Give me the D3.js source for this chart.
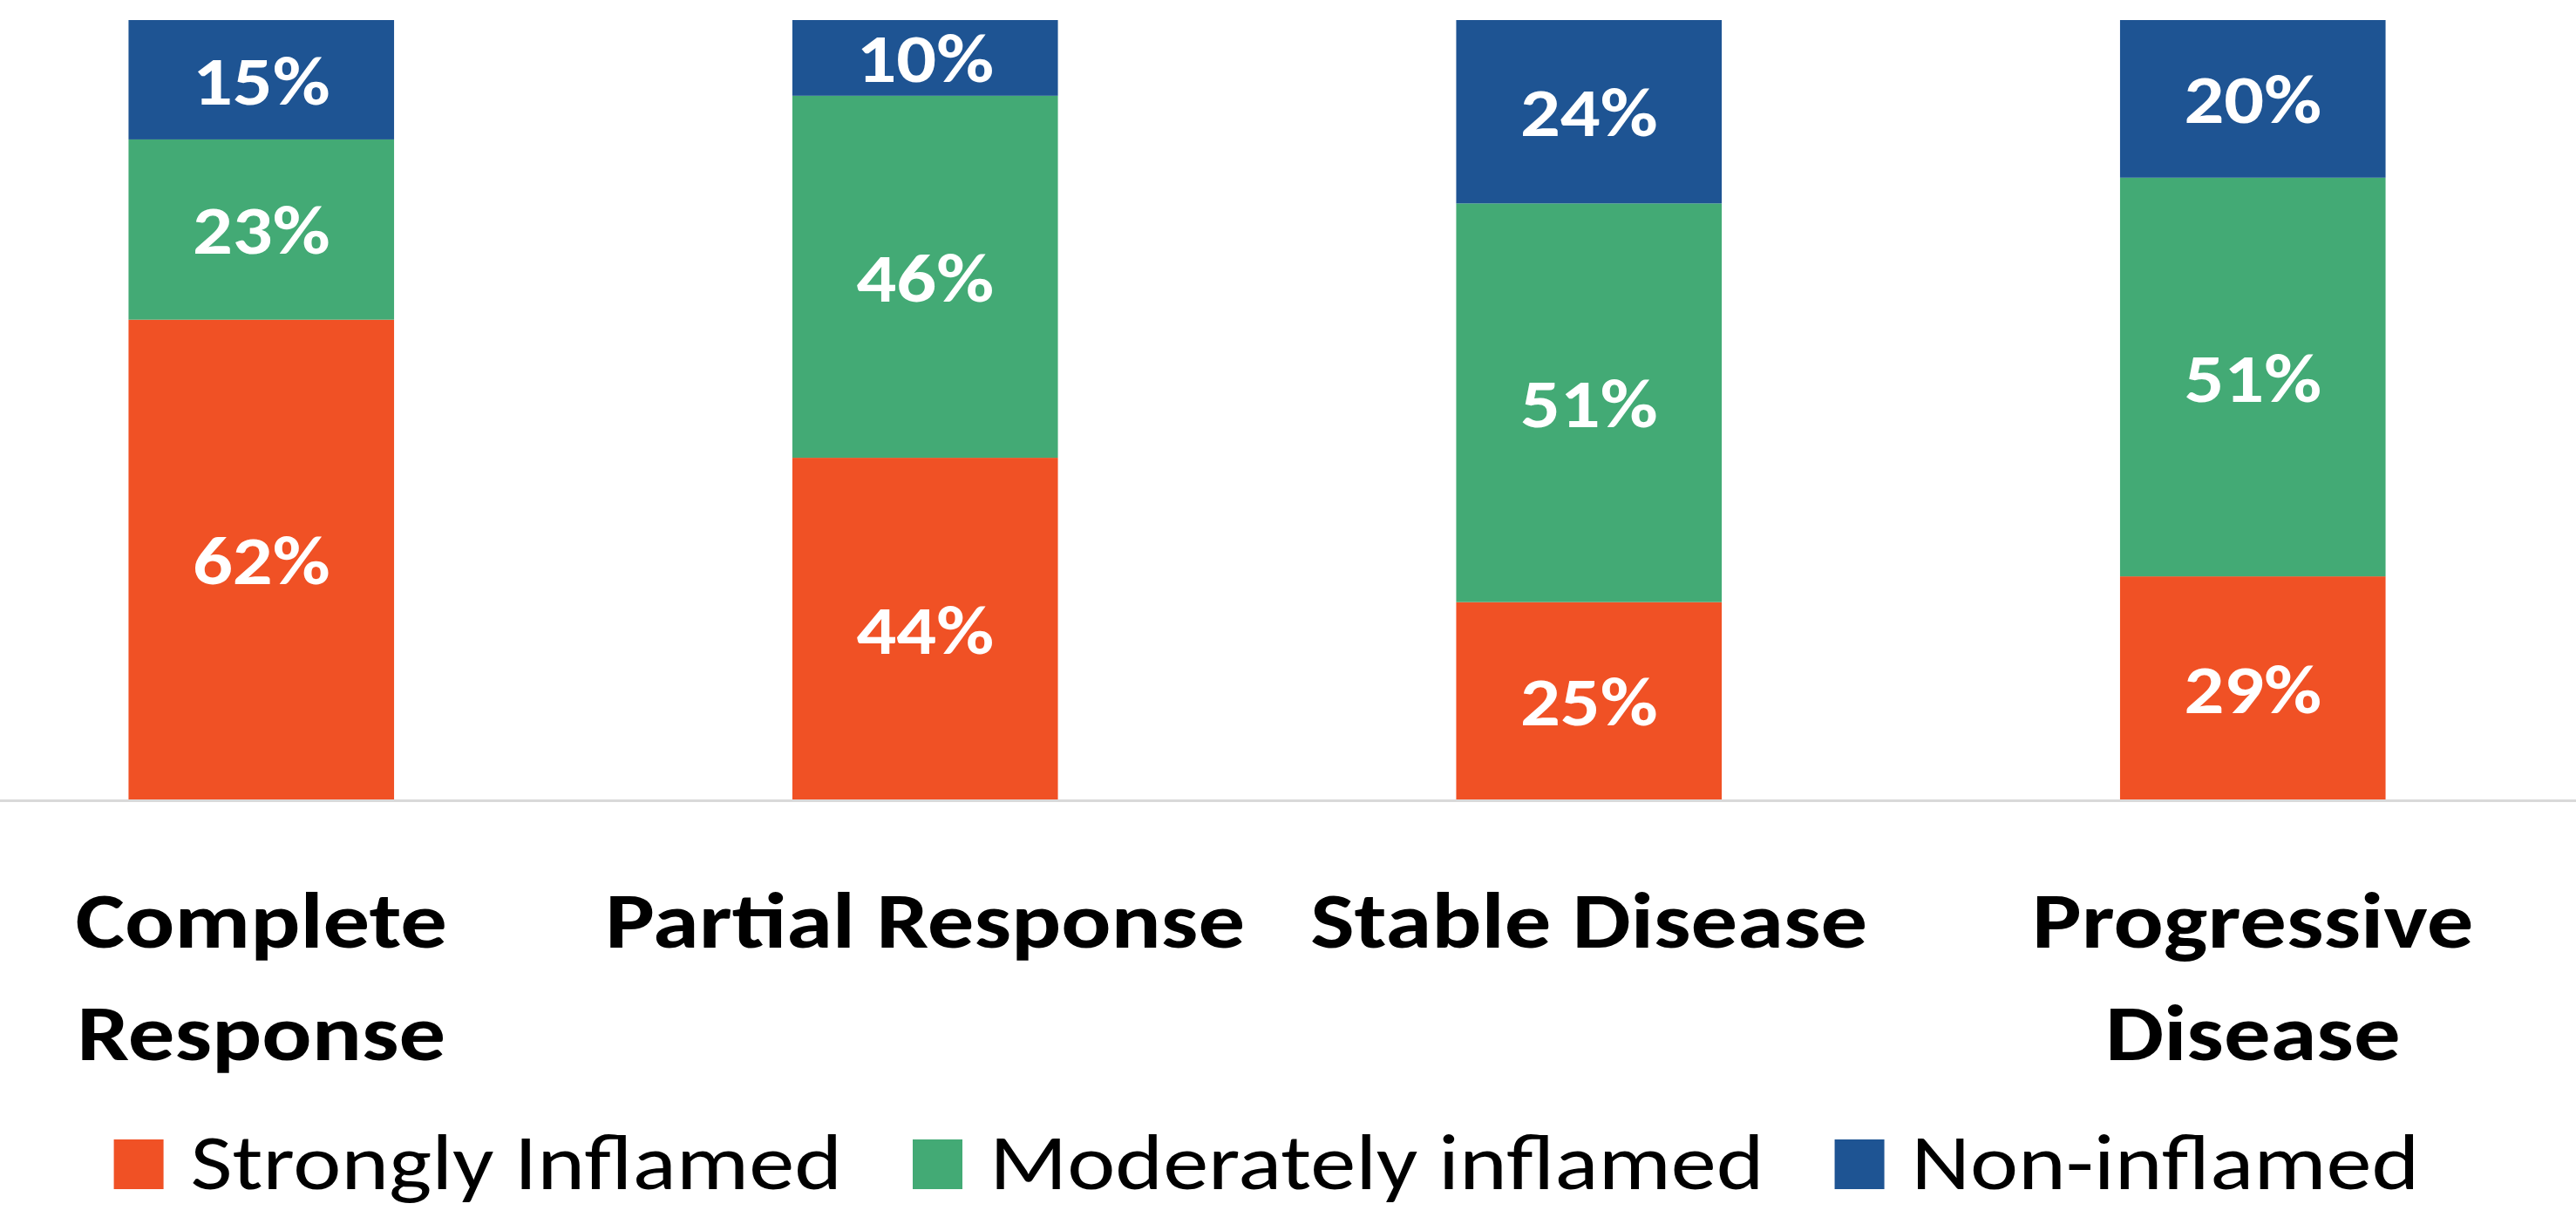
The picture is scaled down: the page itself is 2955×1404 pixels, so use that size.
<!DOCTYPE html>
<html>
<head>
<meta charset="utf-8">
<script src="https://cdn.jsdelivr.net/npm/d3@7"></script>
<style>
  html, body { margin: 0; padding: 0; background: #fff; }
  svg { display: block; }
</style>
</head>
<body>
<div id="chart"></div>
<script>
// == chart data (shares in %, labels show them rounded)
const categories = ["Complete Response", "Partial Response", "Stable Disease", "Progressive Disease"];
const seriesNames = ["Strongly Inflamed", "Moderately inflamed", "Non-inflamed"];
const stronglyInflamed = [61.6, 43.9, 25.4, 28.7];
const moderatelyInflamed = [23.1, 46.4, 51.1, 51.1];
const nonInflamed = [15.3, 9.7, 23.5, 20.2];
const seriesColors = ["#F05125", "#43AA75", "#1E5493"];

const WIDTH = 2955;
const HEIGHT = 1404;
const BASE = 918;   // category axis
const TOP = 23;     // 100% line
const FONT = "Carlito, Lato, 'Open Sans', sans-serif";
const SX = 1.16;    // the original text is a bit wider than Lato, stretch it

const svg = d3.select("#chart")
  .append("svg")
    .attr("width", WIDTH)
    .attr("height", HEIGHT);

// stacked rows built from the arrays
const rows = categories.map((c, i) => ({
  cat: c,
  s0: stronglyInflamed[i],
  s1: moderatelyInflamed[i],
  s2: nonInflamed[i]
}));
const stack = d3.stack().keys(["s0", "s1", "s2"])(rows);

// plot area is wider than the picture (cut off on both sides)
const x = d3.scaleBand()
  .domain(categories)
  .range([-81, 2965])
  .paddingInner(0.6)
  .paddingOuter(0.3);

const y = d3.scaleLinear()
  .domain([0, 100])
  .range([BASE, TOP]);

// bars
const layers = svg.selectAll("g.layer")
  .data(stack)
  .enter().append("g")
    .attr("class", "layer")
    .attr("fill", (d, i) => seriesColors[i]);

layers.selectAll("rect")
  .data(d => d)
  .enter().append("rect")
    .attr("x", d => x(d.data.cat))
    .attr("width", x.bandwidth())
    .attr("y", d => y(d[1]))
    .attr("height", d => y(d[0]) - y(d[1]));

// data labels
const labelSize = 78;
layers.selectAll("text")
  .data(d => d)
  .enter().append("text")
    .attr("transform", d => {
      const cx = x(d.data.cat) + x.bandwidth() / 2;
      const cy = (y(d[0]) + y(d[1])) / 2 + labelSize * 0.36;
      return `translate(${cx}, ${cy}) scale(${SX}, 1)`;
    })
    .attr("text-anchor", "middle")
    .style("font-family", FONT)
    .style("font-weight", "bold")
    .style("font-size", labelSize + "px")
    .style("fill", "#fff")
    .text(d => Math.round(d[1] - d[0]) + "%");

// category axis
const xAxisCall = d3.axisBottom(x).tickSize(0).tickPadding(0);
const xAxisGroup = svg.append("g")
  .attr("transform", `translate(0, ${BASE})`)
  .call(xAxisCall);

xAxisGroup.select(".domain")
  .attr("stroke", "#D9D9D9")
  .attr("stroke-width", 3);

const catSize = 92;
xAxisGroup.selectAll(".tick text")
  .attr("y", 169)
  .attr("dy", null)
  .attr("transform", `scale(${SX}, 1)`)
  .style("font-family", FONT)
  .style("font-weight", "bold")
  .style("font-size", catSize + "px")
  .style("fill", "#000")
  .call(wrap, (x.step() - 20) / SX);

function wrap(texts, maxWidth) {
  texts.each(function() {
    const text = d3.select(this);
    const words = text.text().split(" ");
    text.text(null);
    let line = [];
    let tspan = text.append("tspan").attr("x", 0);
    words.forEach(w => {
      line.push(w);
      tspan.text(line.join(" "));
      if (tspan.node().getComputedTextLength() > maxWidth && line.length > 1) {
        line.pop();
        tspan.text(line.join(" "));
        line = [w];
        tspan = text.append("tspan").attr("x", 0).attr("dy", 129).text(w);
      }
    });
  });
}

// legend, centred under the chart
const legendSize = 90;
const legend = svg.append("g");
const items = legend.selectAll("g")
  .data(seriesNames)
  .enter().append("g");

items.append("rect")
  .attr("y", 1307)
  .attr("width", 57)
  .attr("height", 57)
  .attr("fill", (d, i) => seriesColors[i]);

items.append("text")
  .attr("transform", `translate(88, 1364) scale(${SX}, 1)`)
  .style("font-family", FONT)
  .style("font-size", legendSize + "px")
  .style("fill", "#000")
  .text(d => d);

let cursor = 0;
items.each(function() {
  const g = d3.select(this);
  g.attr("transform", `translate(${cursor}, 0)`);
  cursor += 88 + g.select("text").node().getComputedTextLength() * SX + 81;
});
const total = cursor - 81;
legend.attr("transform", `translate(${1453 - total / 2}, 0)`);
</script>
</body>
</html>
